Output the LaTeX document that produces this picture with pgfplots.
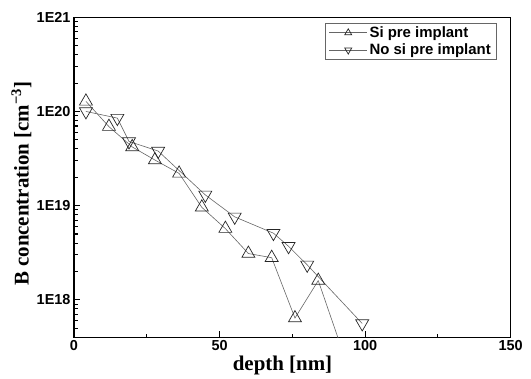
\documentclass[border=0pt]{standalone}
\usepackage{pgfplots}
\pgfplotsset{compat=1.18}
\usepackage{fontspec}
\setmainfont{Liberation Serif}
\setsansfont{Liberation Sans}
\begin{document}
\begin{tikzpicture}
\path (0,0) rectangle (531bp,379bp);
\begin{axis}[
  at={(74bp,41.7bp)}, anchor=south west,
  scale only axis, width=436.7bp, height=320bp,
  ymode=log, xmin=0, xmax=150, ymin=4e17, ymax=1e21,
  xtick={0,50,100,150}, xticklabels={0,50,100,150},
  minor x tick num=1,
  ytick={1e18,1e19,1e20,1e21}, yticklabels={1E18,1E19,1E20,1E21},
  extra y ticks={5e17,6e17,7e17,8e17,9e17,2e18,3e18,4e18,5e18,6e18,7e18,8e18,9e18,2e19,3e19,4e19,5e19,6e19,7e19,8e19,9e19,2e20,3e20,4e20,5e20,6e20,7e20,8e20,9e20},
  extra y tick labels={},
  extra y tick style={major tick length=3.5bp},
  tick align=inside, tick pos=left,
  major tick length=6bp, minor tick length=3.5bp,
  axis line style={line width=1.5bp},
  every tick/.style={black, line width=1.1bp},
  tick label style={font=\sffamily\bfseries\fontsize{14.5}{15}\selectfont},
  xlabel={\bfseries depth [nm]},
  ylabel={\bfseries B concentration [cm\textsuperscript{−3}]},
  label style={font=\rmfamily\bfseries\fontsize{21}{22}\selectfont},
  xlabel style={at={(axis description cs:0.4775,0)}, anchor=north, yshift=-19bp, inner sep=0pt},
  ylabel style={at={(axis description cs:0,0.48)}, anchor=south, yshift=42.3bp, inner sep=0pt},
  legend style={at={(0.969,0.983)}, anchor=north east, draw=black!60, line width=0.8bp,
    font=\sffamily\bfseries\fontsize{15}{18}\selectfont, inner xsep=4bp, inner ysep=1.5bp, row sep=1bp,
    cells={anchor=west}},
  legend image code/.code={\draw[mark repeat=2,mark phase=2,#1,mark size=4bp] plot coordinates {(0bp,0bp)(19bp,0bp)(38bp,0bp)};},
]
\addplot[black!60, line width=0.6bp, forget plot] coordinates {(83.9,1.6e18) (92,3.0e17)};
\addplot[black!60, line width=0.6bp, mark=triangle, mark size=7.5bp,
  mark options={draw=black!85, fill=white, line width=0.7bp, solid}] coordinates {
(4.1,1.28e20) (12.0,6.9e19) (20.0,4.2e19) (27.8,3.05e19) (36.1,2.2e19)
(43.9,9.6e18) (52.0,5.7e18) (59.9,3.1e18) (67.9,2.8e18) (75.9,6.4e17) (83.9,1.6e18)};
\addlegendentry{Si pre implant}
\addplot[black!60, line width=0.6bp, mark=triangle, mark size=7.5bp,
  mark options={draw=black!85, fill=white, line width=0.7bp, solid, rotate=180}] coordinates {
(4.1,1.0e20) (14.9,8.5e19) (18.9,4.8e19) (28.9,3.8e19) (45.1,1.3e19)
(55.2,7.6e18) (68.5,5.1e18) (73.7,3.7e18) (80.1,2.35e18) (99.0,5.6e17)};
\addlegendentry{No si pre implant}
\end{axis}
\end{tikzpicture}
\end{document}
